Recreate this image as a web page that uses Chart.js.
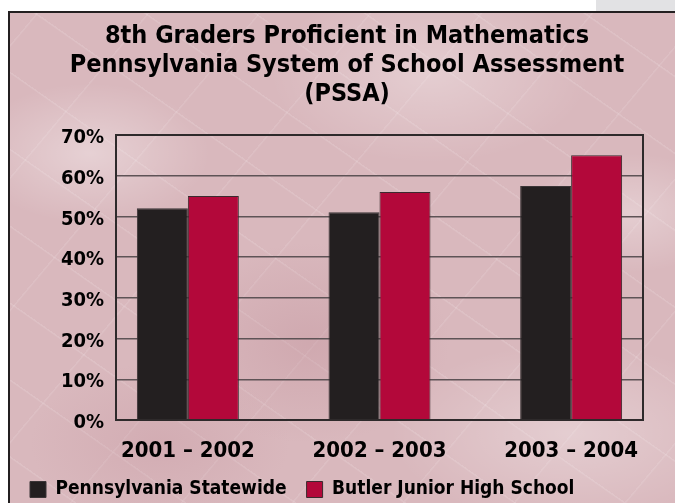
<!DOCTYPE html>
<html>
<head>
<meta charset="utf-8">
<script src="https://cdn.jsdelivr.net/npm/chart.js@4.4.1/dist/chart.umd.min.js"></script>
<style>
  html, body { margin: 0; padding: 0; background: #fff; }
  #wrap { position: relative; width: 675px; height: 503px; overflow: hidden; }
  #corner { position: absolute; left: 596px; top: 0; width: 79px; height: 11px; background: #e2e2e4; }
  #frame {
    position: absolute; left: 8px; top: 11px; width: 700px; height: 520px;
    border-left: 2px solid #231f20; border-top: 2px solid #231f20;
    background-color: #d9b8bd;
    background-image:
      radial-gradient(ellipse 120px 70px at 80px 140px, rgba(255,255,255,0.35), transparent),
      radial-gradient(ellipse 160px 90px at 420px 60px, rgba(255,255,255,0.3), transparent),
      radial-gradient(ellipse 140px 100px at 300px 330px, rgba(190,140,150,0.35), transparent),
      radial-gradient(ellipse 180px 90px at 560px 420px, rgba(255,255,255,0.3), transparent),
      radial-gradient(ellipse 130px 80px at 150px 430px, rgba(195,145,155,0.3), transparent),
      radial-gradient(ellipse 100px 60px at 620px 200px, rgba(255,255,255,0.3), transparent),
      repeating-linear-gradient(35deg, rgba(255,255,255,0) 0 61px, rgba(255,255,255,0.12) 62px 63px),
      repeating-linear-gradient(-50deg, rgba(255,255,255,0) 0 83px, rgba(255,255,255,0.1) 84px 85px);
  }
  canvas { position: absolute; left: 0; top: 0; }
</style>
</head>
<body>
<div id="wrap">
  <div id="corner"></div>
  <div id="frame"></div>
  <canvas id="canvas" width="675" height="503"></canvas>
</div>
<script>
var titleLines = ['8th Graders Proficient in Mathematics', 'Pennsylvania System of School Assessment', '(PSSA)']
var years = ['2001 \u2013 2002', '2002 \u2013 2003', '2003 \u2013 2004']
var statewide = [52, 51, 57.5]
var butler = [55, 56, 65]
var yTicks = [0, 10, 20, 30, 40, 50, 60, 70]

var FONT = "'DejaVu Sans Condensed', 'DejaVu Sans', sans-serif"

function points(values) {
  return values.map(function(v, i) { return {x: i, y: v} })
}

// box around the plot area, drawn over the bars like the original
var frameBox = {
  id: 'frameBox',
  afterDatasetsDraw: function(chart) {
    var a = chart.chartArea, ctx = chart.ctx
    ctx.save()
    ctx.strokeStyle = '#2e2a2b'
    ctx.lineWidth = 2
    ctx.strokeRect(a.left, a.top, a.right - a.left, a.bottom - a.top)
    ctx.restore()
  }
}

var ctx = document.getElementById('canvas').getContext('2d')
var chart = new Chart(ctx, {
  type: 'bar',
  data: {
    datasets: [{
      label: 'Pennsylvania Statewide',
      data: points(statewide),
      backgroundColor: '#231f20',
      borderColor: '#3b3537',
      borderWidth: 1
    }, {
      label: 'Butler Junior High School',
      data: points(butler),
      backgroundColor: '#b3083a',
      borderColor: '#3b2a2e',
      borderWidth: 1
    }]
  },
  options: {
    responsive: false,
    animation: false,
    layout: { padding: { left: 10, right: -9, top: 12, bottom: -6 } },
    datasets: { bar: { categoryPercentage: 0.532, barPercentage: 1 } },
    plugins: {
      title: {
        display: true,
        text: titleLines,
        color: '#000',
        font: { family: FONT, size: 25, weight: 'bold', lineHeight: '29px' },
        padding: { top: 10, bottom: 26 }
      },
      legend: {
        position: 'bottom',
        align: 'start',
        labels: {
          color: '#000',
          font: { family: FONT, size: 19, weight: 'bold' },
          boxWidth: 16,
          boxHeight: 16,
          padding: 20
        }
      },
      tooltip: { enabled: false }
    },
    scales: {
      x: {
        type: 'linear',
        offset: false,
        min: -0.375,
        max: 2.375,
        afterBuildTicks: function(s) {
          s.ticks = years.map(function(_, i) { return {value: i} })
        },
        afterFit: function(s) { s.height = 40 },
        grid: { display: false, offset: false },
        border: { display: false },
        ticks: {
          autoSkip: false,
          maxRotation: 0,
          color: '#000',
          padding: 12,
          font: { family: FONT, size: 22, weight: 'bold', lineHeight: 1 },
          callback: function(v) { return years[v] }
        }
      },
      y: {
        min: 0,
        max: 70,
        afterBuildTicks: function(s) {
          s.ticks = yTicks.map(function(v) { return {value: v} })
        },
        afterFit: function(s) { s.width = 106 },
        grid: { color: '#5e5356', lineWidth: 1.5, drawTicks: false },
        border: { color: '#2e2a2b', width: 2 },
        ticks: {
          color: '#000',
          padding: 12,
          labelOffset: 3,
          font: { family: FONT, size: 20, weight: 'bold' },
          callback: function(v) { return v + '%' }
        }
      },
      // empty right-hand axis: keeps the plot off the right edge
      yRight: {
        type: 'linear',
        position: 'right',
        afterFit: function(s) { s.width = 41 },
        grid: { display: false },
        border: { display: false },
        ticks: { display: false }
      }
    }
  },
  plugins: [frameBox]
})
</script>
</body>
</html>
